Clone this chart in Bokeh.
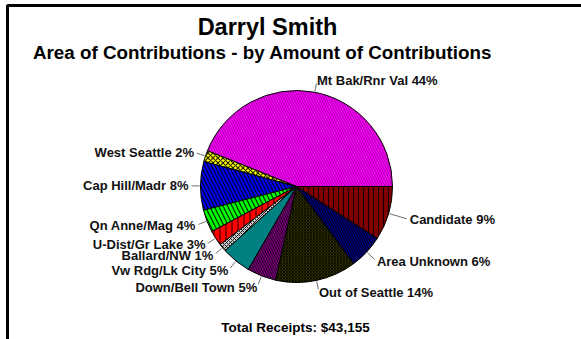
import numpy as np
from bokeh.plotting import figure
from bokeh.models import Range1d, ColumnDataSource
from bokeh.core.properties import value
from bokeh.embed import file_html
from bokeh.resources import INLINE

# ---- data ----
areas = ["Mt Bak/Rnr Val", "West Seattle", "Cap Hill/Madr", "Qn Anne/Mag",
         "U-Dist/Gr Lake", "Ballard/NW", "Vw Rdg/Lk City", "Down/Bell Town",
         "Out of Seattle", "Area Unknown", "Candidate"]
shares = [44.1, 1.9, 8.2, 3.8, 2.6, 1.3, 5.0, 4.9, 13.7, 5.8, 9.1]
pct_labels = ["44%", "2%", "8%", "4%", "3%", "1%", "5%", "5%", "14%", "6%", "9%"]
title = "Darryl Smith"
subtitle = "Area of Contributions - by Amount of Contributions"
footer = "Total Receipts: $43,155"

# ---- styles ----
colors = ["#FF00FF", "#FFFF00", "#0000FF", "#00FF00", "#FF0000", "#C8C8C8",
          "#008080", "#800080", "#808000", "#000080", "#800000"]
patterns = ["\\", "x", "\\", "\\", "|", "x", " ", "\\", "x", "\\", "|"]
hscale = [5, 5, 7, 9, 6, 4, 5, 5, 3, 5, 5]
hweight = [0.7, 1.2, 1.2, 1.2, 1.0, 1.0, 1.0, 1.0, 1.8, 1.0, 1.0]
halpha = [0.55, 0.85, 0.85, 0.85, 0.85, 0.85, 0.85, 0.85, 0.9, 0.85, 0.85]
label_gap = [12, 12, 12, 12, 12, 12, 12, 12, 12, 14, 22]
FONT = "Liberation Sans"

W, H = 581, 339
PH = 339                 # page height (y data = PH - screen_y)

p = figure(width=W, height=H, output_backend="svg", toolbar_location=None,
           x_range=Range1d(0, W), y_range=Range1d(0, H),
           min_border=0, outline_line_color=None)
p.axis.visible = False
p.grid.visible = False
p.background_fill_color = "white"
p.border_fill_color = "white"

# frame lines (left and top)
p.line([7, 7, 581], [0, PH - 5, PH - 5], line_color="black", line_width=3)

# pie
cx, cy, r = 296, PH - 186, 96
vals = np.array(shares, dtype=float)
frac = vals / vals.sum()
ends = np.cumsum(frac) * 2 * np.pi
starts = np.concatenate([[0.0], ends[:-1]])
src = ColumnDataSource(dict(start=starts, end=ends, color=colors, pat=patterns,
                            hs=hscale, hw=hweight, ha=halpha))
p.wedge(x=cx, y=cy, radius=r, start_angle="start", end_angle="end", source=src,
        fill_color="color", line_color="black", line_width=1,
        hatch_pattern="pat", hatch_color="black", hatch_scale="hs",
        hatch_weight="hw", hatch_alpha="ha")

# leader lines and labels
mids = (starts + ends) / 2
gap = np.array(label_gap, dtype=float)
x1 = cx + (r + 1) * np.cos(mids)
y1 = cy + (r + 1) * np.sin(mids)
x2 = cx + (r + gap - 3) * np.cos(mids)
y2 = cy + (r + gap - 3) * np.sin(mids)
p.segment(x1, y1, x2, y2, line_color="#707070", line_width=1)
lx = cx + (r + gap) * np.cos(mids)
ly = cy + (r + gap) * np.sin(mids)
texts = [f"{a} {b}" for a, b in zip(areas, pct_labels)]
right_side = np.cos(mids) >= 0
for side, align in ((right_side, "left"), (~right_side, "right")):
    idx = np.where(side)[0]
    p.text(x=lx[idx], y=ly[idx], text=[texts[i] for i in idx],
           text_font=value(FONT), text_font_style="bold", text_font_size="13px",
           text_align=align, text_baseline="middle", text_color="#111111")

# titles
p.text(x=[267], y=[PH - 26], text=[title], text_font=value(FONT),
       text_font_style="bold", text_font_size="23.5px", text_align="center",
       text_baseline="middle", text_color="black")
p.text(x=[262], y=[PH - 52], text=[subtitle], text_font=value(FONT),
       text_font_style="bold", text_font_size="18.8px", text_align="center",
       text_baseline="middle", text_color="black")
p.text(x=[295], y=[PH - 327], text=[footer], text_font=value(FONT),
       text_font_style="bold", text_font_size="13.5px", text_align="center",
       text_baseline="middle", text_color="black")

open("out.html", "w").write(file_html(p, INLINE))
